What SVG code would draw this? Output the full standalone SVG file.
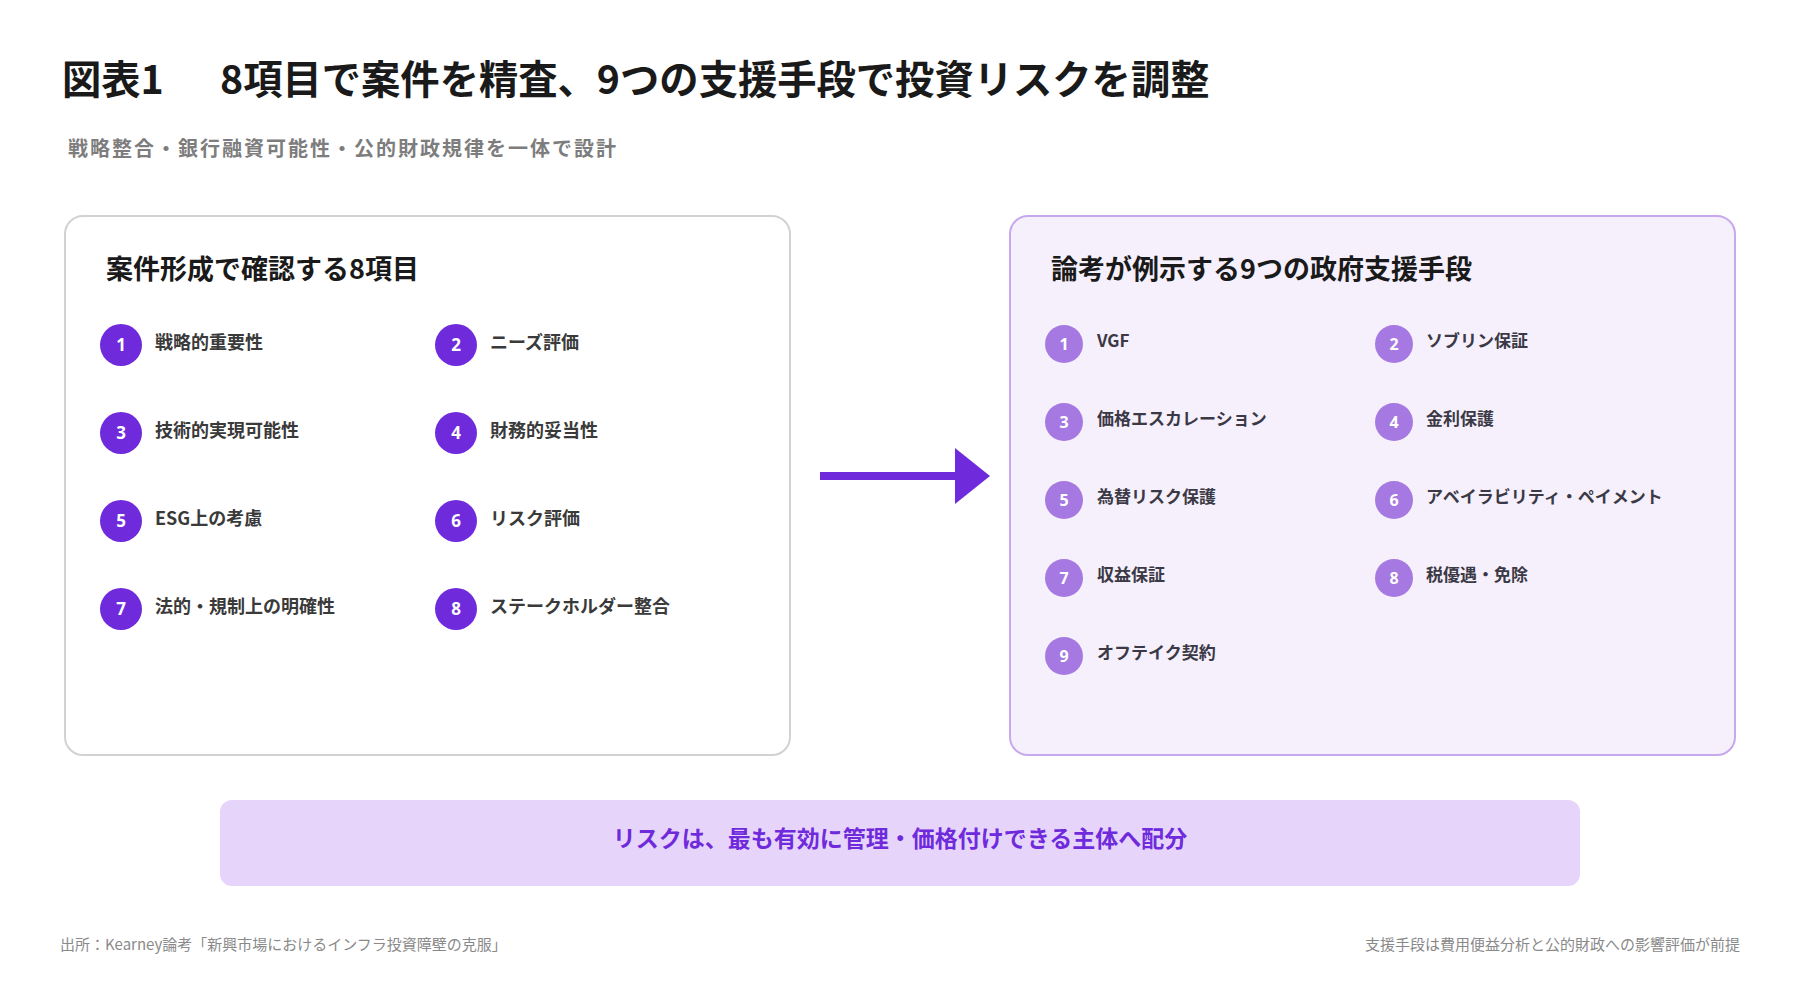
<svg xmlns="http://www.w3.org/2000/svg" width="1800" height="1000" viewBox="0 0 1800 1000">
<defs>
<style>
text{font-family:"Noto Sans CJK JP","Noto Sans",sans-serif}
.title{font-size:39.3px;font-weight:700;fill:#1a1a1a}
.sub{font-size:20px;font-weight:700;fill:#7d7d7d;letter-spacing:2px}
.head{font-size:27px;font-weight:700;fill:#1a1a1a}
.iteml{font-size:18px;font-weight:700;fill:#3a3a3a}
.itemr{font-size:17px;font-weight:700;fill:#3b3945}
.numl{font-size:17px;font-weight:700;fill:#ffffff;text-anchor:middle;font-family:"Noto Sans",sans-serif}
.numr{font-size:16px;font-weight:700;fill:#ffffff;text-anchor:middle;font-family:"Noto Sans",sans-serif}
.cl{fill:#6f2bdb}
.cr{fill:#a679e2}
.foot{font-size:15px;fill:#8a8a8a}
.banner{font-size:23px;font-weight:700;fill:#6f2bdb;text-anchor:middle}
</style>
<marker id="ah" markerUnits="userSpaceOnUse" markerWidth="36" markerHeight="56" refX="0" refY="28" orient="auto">
<path d="M0,0 L35,28 L0,56 Z" fill="#6f2bdb"/>
</marker>
</defs>
<rect width="1800" height="1000" fill="#ffffff"/>

<g id="header">
<text class="title" x="62" y="94">図表1<tspan x="220">8項目で案件を精査、9つの支援手段で投資リスクを調整</tspan></text>
<text class="sub" x="68" y="156">戦略整合・銀行融資可能性・公的財政規律を一体で設計</text>
</g>

<g id="panel-left">
<rect x="65" y="216" width="725" height="539" rx="18" fill="#ffffff" stroke="#d2d2d2" stroke-width="2"/>
<text class="head" x="106" y="279">案件形成で確認する8項目</text>
<g id="l1"><circle class="cl" cx="121" cy="345" r="21"/><text class="numl" x="121" y="351">1</text><text class="iteml" x="155" y="349">戦略的重要性</text></g>
<g id="l2"><circle class="cl" cx="456" cy="345" r="21"/><text class="numl" x="456" y="351">2</text><text class="iteml" x="490" y="349">ニーズ評価</text></g>
<g id="l3"><circle class="cl" cx="121" cy="433" r="21"/><text class="numl" x="121" y="439">3</text><text class="iteml" x="155" y="437">技術的実現可能性</text></g>
<g id="l4"><circle class="cl" cx="456" cy="433" r="21"/><text class="numl" x="456" y="439">4</text><text class="iteml" x="490" y="437">財務的妥当性</text></g>
<g id="l5"><circle class="cl" cx="121" cy="521" r="21"/><text class="numl" x="121" y="527">5</text><text class="iteml" x="155" y="525">ESG上の考慮</text></g>
<g id="l6"><circle class="cl" cx="456" cy="521" r="21"/><text class="numl" x="456" y="527">6</text><text class="iteml" x="490" y="525">リスク評価</text></g>
<g id="l7"><circle class="cl" cx="121" cy="609" r="21"/><text class="numl" x="121" y="615">7</text><text class="iteml" x="155" y="613">法的・規制上の明確性</text></g>
<g id="l8"><circle class="cl" cx="456" cy="609" r="21"/><text class="numl" x="456" y="615">8</text><text class="iteml" x="490" y="613">ステークホルダー整合</text></g>
</g>

<g id="panel-right">
<rect x="1010" y="216" width="725" height="539" rx="18" fill="#f5f0fc" stroke="#c7a8ee" stroke-width="2"/>
<text class="head" x="1051" y="279">論考が例示する9つの政府支援手段</text>
<g id="r1"><circle class="cr" cx="1064" cy="344" r="19"/><text class="numr" x="1064" y="349.5">1</text><text class="itemr" x="1097" y="347">VGF</text></g>
<g id="r2"><circle class="cr" cx="1394" cy="344" r="19"/><text class="numr" x="1394" y="349.5">2</text><text class="itemr" x="1426" y="347">ソブリン保証</text></g>
<g id="r3"><circle class="cr" cx="1064" cy="422" r="19"/><text class="numr" x="1064" y="427.5">3</text><text class="itemr" x="1097" y="425">価格エスカレーション</text></g>
<g id="r4"><circle class="cr" cx="1394" cy="422" r="19"/><text class="numr" x="1394" y="427.5">4</text><text class="itemr" x="1426" y="425">金利保護</text></g>
<g id="r5"><circle class="cr" cx="1064" cy="500" r="19"/><text class="numr" x="1064" y="505.5">5</text><text class="itemr" x="1097" y="503">為替リスク保護</text></g>
<g id="r6"><circle class="cr" cx="1394" cy="500" r="19"/><text class="numr" x="1394" y="505.5">6</text><text class="itemr" x="1426" y="503">アベイラビリティ・ペイメント</text></g>
<g id="r7"><circle class="cr" cx="1064" cy="578" r="19"/><text class="numr" x="1064" y="583.5">7</text><text class="itemr" x="1097" y="581">収益保証</text></g>
<g id="r8"><circle class="cr" cx="1394" cy="578" r="19"/><text class="numr" x="1394" y="583.5">8</text><text class="itemr" x="1426" y="581">税優遇・免除</text></g>
<g id="r9"><circle class="cr" cx="1064" cy="656" r="19"/><text class="numr" x="1064" y="661.5">9</text><text class="itemr" x="1097" y="659">オフテイク契約</text></g>
</g>

<g id="connectors">
<line x1="820" y1="476" x2="955" y2="476" stroke="#6f2bdb" stroke-width="8" marker-end="url(#ah)"/>
</g>

<g id="banner">
<rect x="220" y="800" width="1360" height="86" rx="12" fill="#e7d4fb"/>
<text class="banner" x="900" y="847">リスクは、最も有効に管理・価格付けできる主体へ配分</text>
</g>

<g id="footer">
<text class="foot" x="60" y="950">出所：Kearney論考「新興市場におけるインフラ投資障壁の克服」</text>
<text class="foot" x="1740" y="950" text-anchor="end">支援手段は費用便益分析と公的財政への影響評価が前提</text>
</g>
</svg>
